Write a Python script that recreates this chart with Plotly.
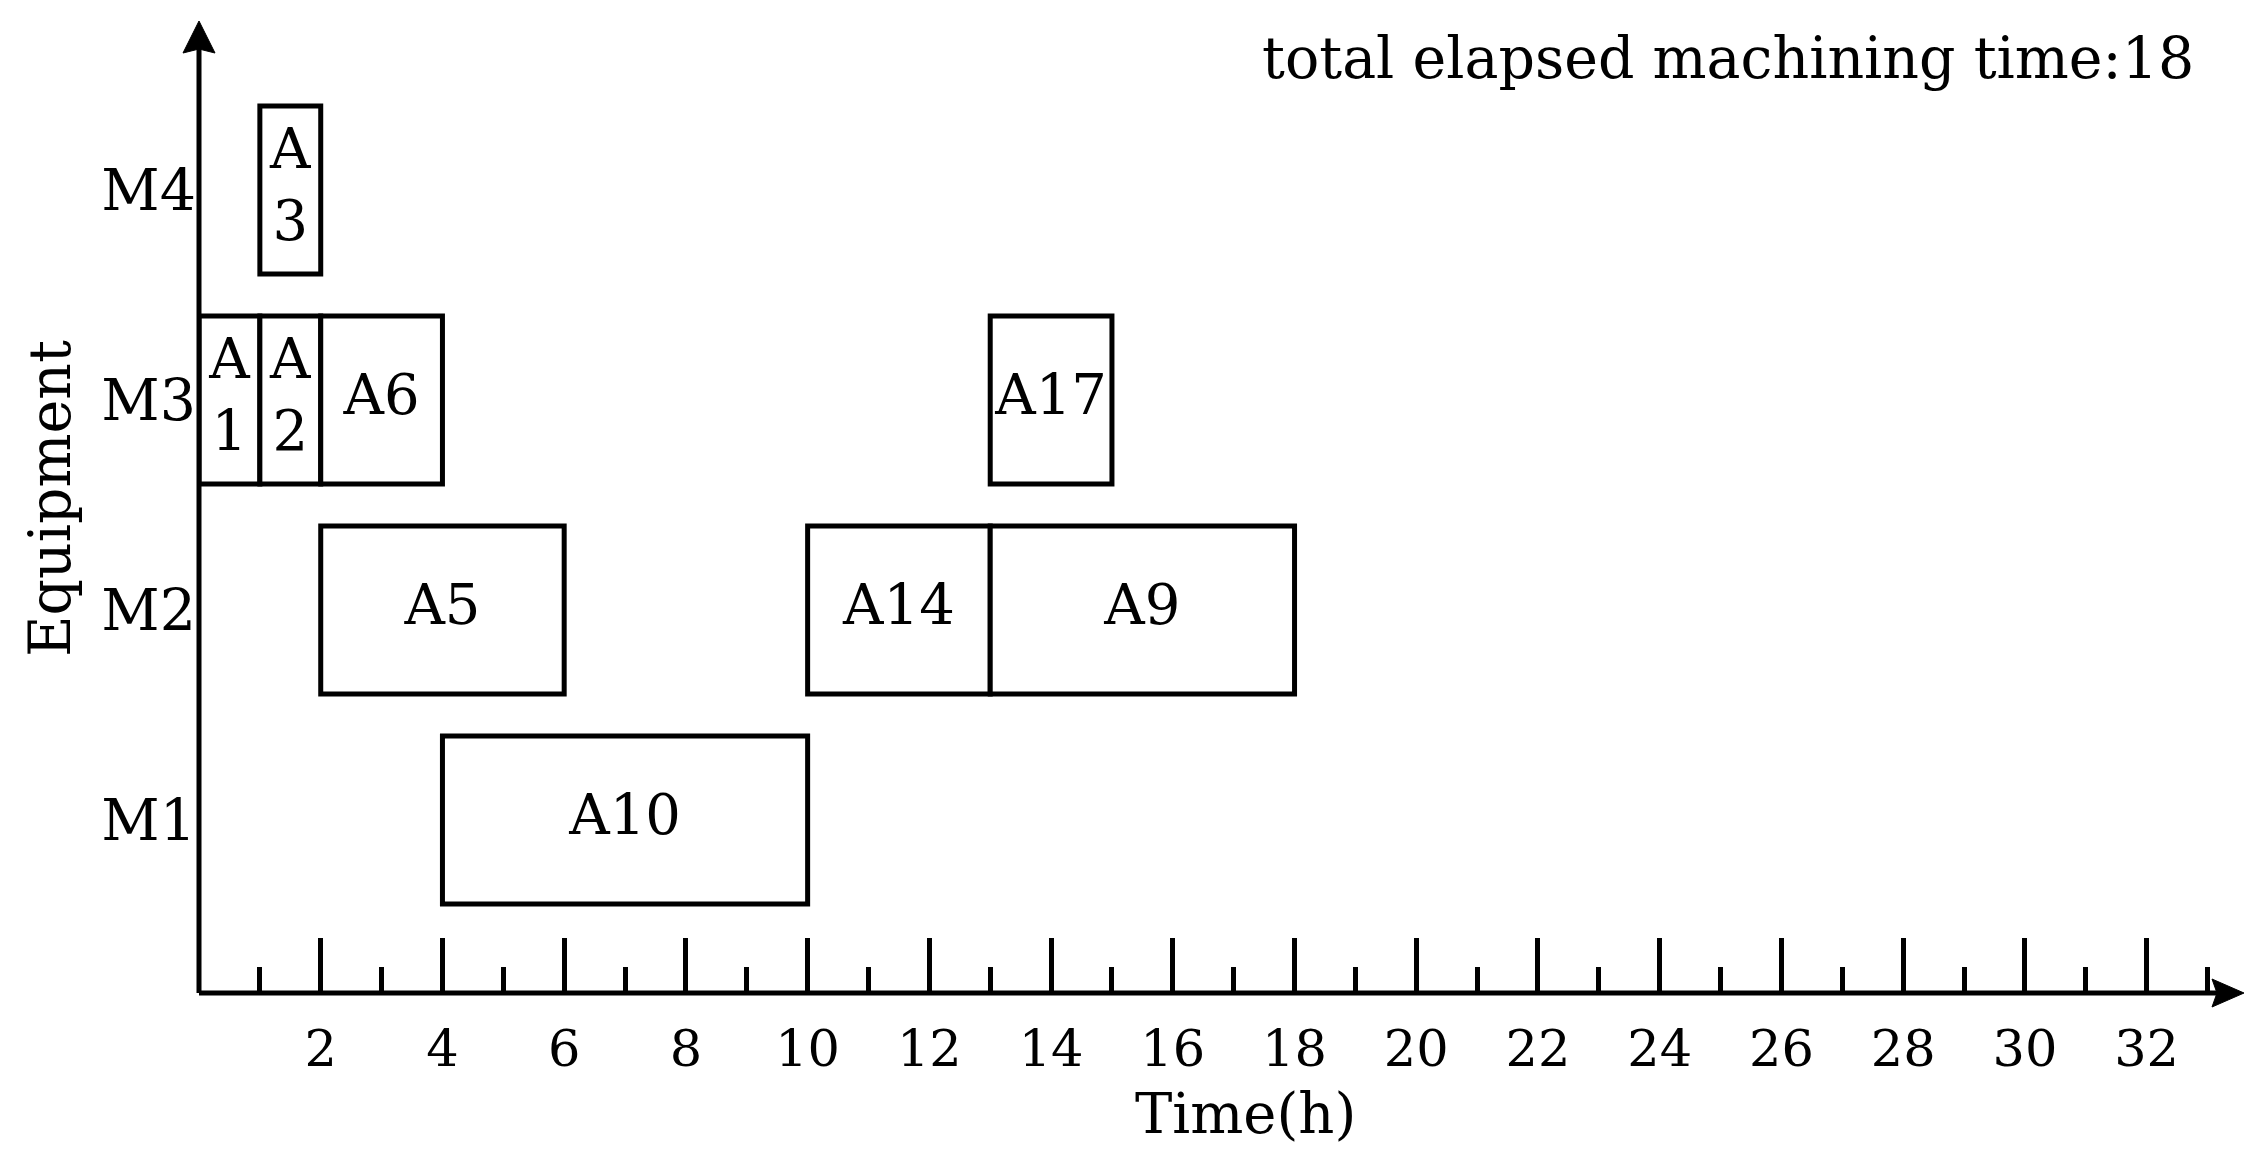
import plotly.graph_objects as go

# schedule data
tasks = ["A1", "A2", "A6", "A3", "A5", "A14", "A9", "A10", "A17"]
machines = ["M3", "M3", "M3", "M4", "M2", "M2", "M2", "M1", "M3"]
start = [0, 1, 2, 1, 2, 10, 13, 4, 13]
finish = [1, 2, 4, 2, 6, 13, 18, 10, 15]
labels = ["A<br>1", "A<br>2", "A6", "A<br>3", "A5", "A14", "A9", "A10", "A17"]

machine_order = ["M1", "M2", "M3", "M4"]
major_ticks = list(range(2, 33, 2))
minor_ticks = list(range(1, 34, 2))
total_time = max(finish)

FONT = "DejaVu Serif"
# page body has an 8px margin, so the figure is a bit smaller than the window
W, H = 2255, 1143
LW = 5

durations = [f - s for s, f in zip(start, finish)]
centers = [(s + f) / 2 for s, f in zip(start, finish)]

fig = go.Figure()

fig.add_trace(go.Bar(
    y=machines,
    x=durations,
    base=start,
    orientation="h",
    width=0.8,
    marker=dict(color="white", line=dict(color="black", width=LW)),
    hoverinfo="skip",
    showlegend=False,
))

fig.add_trace(go.Scatter(
    x=centers,
    y=machines,
    mode="text",
    text=labels,
    textfont=dict(family=FONT, size=56, color="black"),
    hoverinfo="skip",
    showlegend=False,
))

# axis lines with arrows
fig.add_shape(type="line", xref="paper", yref="paper", x0=0, x1=0.992, y0=0, y1=0,
              line=dict(color="black", width=LW))
fig.add_shape(type="line", xref="paper", yref="paper", x0=0, x1=0, y0=0, y1=0.98,
              line=dict(color="black", width=LW))
fig.add_shape(type="path", xref="paper", yref="paper", xsizemode="pixel", ysizemode="pixel",
              xanchor=1, yanchor=0, path="M 0 0 L -32 14 L -27 0 L -32 -14 Z",
              fillcolor="black", line=dict(color="black", width=1))
fig.add_shape(type="path", xref="paper", yref="paper", xsizemode="pixel", ysizemode="pixel",
              xanchor=0, yanchor=1, path="M 0 0 L -16 -32 L 0 -28 L 16 -32 Z",
              fillcolor="black", line=dict(color="black", width=1))

fig.add_annotation(text=f"total elapsed machining time:{total_time}",
                   xref="paper", yref="paper", x=0.9765, y=0.962,
                   xanchor="right", yanchor="middle", showarrow=False,
                   font=dict(family=FONT, size=57, color="black"))
fig.add_annotation(text="Time(h)", xref="paper", yref="paper", x=0.5115, y=-0.1235,
                   xanchor="center", yanchor="middle", showarrow=False,
                   font=dict(family=FONT, size=56, color="black"))
fig.add_annotation(text="Equipment", xref="paper", yref="paper", x=-0.0725, y=0.509,
                   xanchor="center", yanchor="middle", showarrow=False, textangle=-90,
                   font=dict(family=FONT, size=57, color="black"))

fig.update_layout(
    width=W, height=H,
    margin=dict(l=191, r=19, t=13, b=158),
    paper_bgcolor="white", plot_bgcolor="white",
    font=dict(family=FONT, size=57, color="black"),
    xaxis=dict(
        range=[0, 33.6],
        tickvals=major_ticks,
        ticktext=[str(v) for v in major_ticks],
        ticks="inside", ticklen=55, tickwidth=LW, tickcolor="black",
        minor=dict(tickvals=minor_ticks, ticks="inside", ticklen=26,
                   tickwidth=LW, tickcolor="black", showgrid=False),
        showgrid=False, zeroline=False, showline=False,
        tickfont=dict(family=FONT, size=51),
        ticklabelstandoff=21,
    ),
    yaxis=dict(
        type="category",
        categoryorder="array", categoryarray=machine_order,
        range=[-0.824, 3.805],
        ticks="", showgrid=False, zeroline=False, showline=False,
        tickfont=dict(family=FONT, size=57),
        ticklabelstandoff=2,
    ),
)

fig.write_html("out.html")
